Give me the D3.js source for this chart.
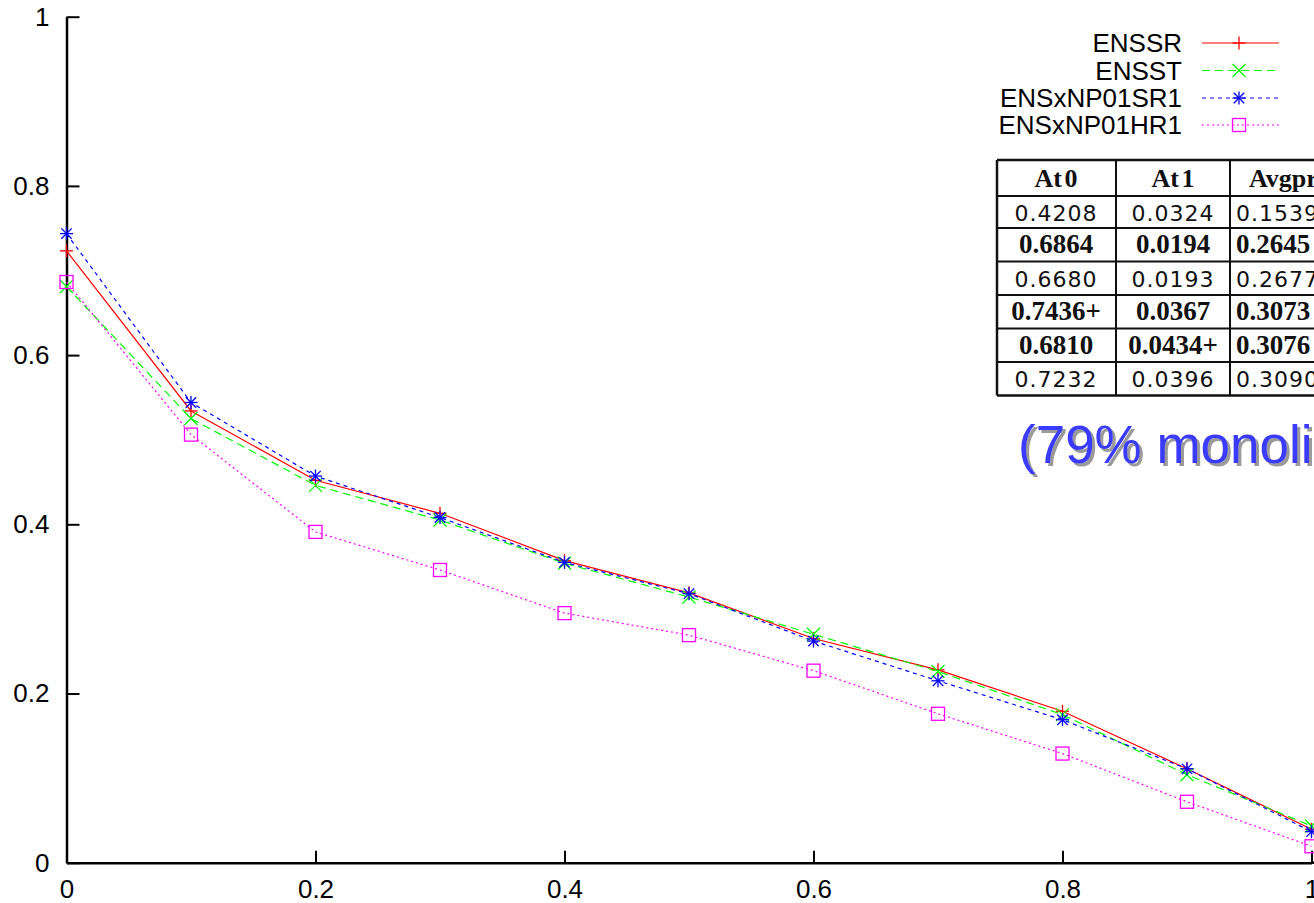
<!DOCTYPE html>
<html>
<head>
<meta charset="utf-8">
<script src="https://cdn.jsdelivr.net/npm/d3@7"></script>
<style>
  html, body { margin: 0; padding: 0; background: #fff; }
  svg { display: block; }
</style>
</head>
<body>
<svg id="chart" width="1314" height="903"></svg>
<script>
// ---------------- data ----------------
const recallLevels = [0, 0.1, 0.2, 0.3, 0.4, 0.5, 0.6, 0.7, 0.8, 0.9, 1.0];
const seriesNames = ["ENSSR", "ENSST", "ENSxNP01SR1", "ENSxNP01HR1"];
const ensSR      = [0.7232, 0.534, 0.452, 0.413, 0.357, 0.319, 0.265, 0.228, 0.179, 0.111, 0.0396];
const ensST      = [0.6810, 0.525, 0.446, 0.405, 0.354, 0.314, 0.270, 0.226, 0.175, 0.104, 0.0434];
const ensNPSR1   = [0.7436, 0.544, 0.457, 0.408, 0.355, 0.318, 0.262, 0.215, 0.169, 0.111, 0.0367];
const ensNPHR1   = [0.6864, 0.506, 0.391, 0.346, 0.295, 0.269, 0.227, 0.176, 0.129, 0.072, 0.0194];
const xTickValues = [0, 0.2, 0.4, 0.6, 0.8, 1];
const xTickLabels = ["0", "0.2", "0.4", "0.6", "0.8", "1"];
const yTickValues = [0, 0.2, 0.4, 0.6, 0.8, 1];
const yTickLabels = ["0", "0.2", "0.4", "0.6", "0.8", "1"];

const tableHeader = ["At 0", "At 1", "Avgprec"];
const tableRows = [
  ["0.4208", "0.0324", "0.1539"],
  ["0.6864", "0.0194", "0.2645"],
  ["0.6680", "0.0193", "0.2677"],
  ["0.7436+", "0.0367", "0.3073"],
  ["0.6810", "0.0434+", "0.3076"],
  ["0.7232", "0.0396", "0.3090"]
];
const tableRowBold = [false, true, false, true, true, false];
const overlayNote = "(79% monolingual)";

// ---------------- styles ----------------
const seriesValues = [ensSR, ensST, ensNPSR1, ensNPHR1];
const colors = ["#ff0000", "#00ff00", "#0000ff", "#ff00ff"];
const dashes = [null, "8,5", "4,4", "2,3"];
const markerTypes = ["plus", "cross", "star", "square"];

const svg = d3.select("#chart");
svg.append("rect").attr("width", 1314).attr("height", 903).attr("fill", "#fff");

const defs = svg.append("defs");
defs.append("filter").attr("id", "shadow").attr("x", "-5%").attr("y", "-20%")
  .attr("width", "120%").attr("height", "150%")
  .append("feDropShadow").attr("dx", 3).attr("dy", 3).attr("stdDeviation", 0.6)
  .attr("flood-color", "#9a9a9a").attr("flood-opacity", 1);

const x = d3.scaleLinear().domain([0, 1]).range([66.5, 1311.5]);
const y = d3.scaleLinear().domain([0, 1]).range([862.7, 16.7]);

const fontSans = "'Liberation Sans', Arial, sans-serif";

// axes
const yAxis = d3.axisLeft(y).tickValues(yTickValues)
  .tickFormat((d, i) => yTickLabels[i]).tickSize(-13).tickSizeOuter(0).tickPadding(17);
const gy = svg.append("g").attr("transform", `translate(${x(0)},0)`).call(yAxis);
gy.selectAll("text").attr("font-family", fontSans).attr("font-size", 26).attr("fill", "#000");
gy.selectAll("line").attr("stroke", "#000").attr("stroke-width", 2);
gy.select(".domain").attr("stroke", "#000").attr("stroke-width", 2.5);

const xAxis = d3.axisBottom(x).tickValues(xTickValues)
  .tickFormat((d, i) => xTickLabels[i]).tickSize(-12).tickSizeOuter(0).tickPadding(17);
const gx = svg.append("g").attr("transform", `translate(0,${y(0)})`).call(xAxis);
gx.selectAll("text").attr("font-family", fontSans).attr("font-size", 26).attr("fill", "#000");
gx.selectAll("line").attr("stroke", "#000").attr("stroke-width", 2);
gx.select(".domain").attr("stroke", "#000").attr("stroke-width", 2.5);
svg.append("line").attr("x1", x(1)).attr("x2", 1314).attr("y1", y(0)).attr("y2", y(0))
  .attr("stroke", "#000").attr("stroke-width", 2.5);

// marker drawing
function drawMarker(g, type, cx, cy, color) {
  const h = 6.5;
  const m = g.append("g").attr("stroke", color).attr("stroke-width", 1.3).attr("fill", "none");
  if (type === "plus" || type === "star") {
    m.append("line").attr("x1", cx - h).attr("x2", cx + h).attr("y1", cy).attr("y2", cy);
    m.append("line").attr("x1", cx).attr("x2", cx).attr("y1", cy - h).attr("y2", cy + h);
  }
  if (type === "cross" || type === "star") {
    const k = type === "star" ? h * 0.8 : h;
    m.append("line").attr("x1", cx - k).attr("x2", cx + k).attr("y1", cy - k).attr("y2", cy + k);
    m.append("line").attr("x1", cx - k).attr("x2", cx + k).attr("y1", cy + k).attr("y2", cy - k);
  }
  if (type === "square") {
    m.append("rect").attr("x", cx - h).attr("y", cy - h).attr("width", 2 * h).attr("height", 2 * h);
  }
}

// lines
const lineGen = d3.line().x((d, i) => x(recallLevels[i])).y(d => y(d));
const plot = svg.append("g");
seriesValues.forEach((vals, s) => {
  plot.append("path").datum(vals).attr("d", lineGen)
    .attr("fill", "none").attr("stroke", colors[s]).attr("stroke-width", 1.2)
    .attr("stroke-dasharray", dashes[s]);
  vals.forEach((v, i) => drawMarker(plot, markerTypes[s], x(recallLevels[i]), y(v), colors[s]));
});

// legend
const legend = svg.append("g");
const legendY = [43, 70.5, 98, 125];
seriesNames.forEach((name, s) => {
  const ly = legendY[s];
  legend.append("text").attr("x", 1182).attr("y", ly).attr("dy", "0.35em")
    .attr("text-anchor", "end").attr("font-family", fontSans).attr("font-size", 26)
    .attr("fill", "#000").text(name);
  legend.append("line").attr("x1", 1202).attr("x2", 1279).attr("y1", ly).attr("y2", ly)
    .attr("stroke", colors[s]).attr("stroke-width", 1.2).attr("stroke-dasharray", dashes[s]);
  drawMarker(legend, markerTypes[s], 1239, ly, colors[s]);
});

// table overlay
const tbl = svg.append("g");
const colX = [997, 1116, 1230, 1400];
const rowY = [160, 196, 228, 261.5, 295, 328.5, 362, 395.5];
tbl.append("rect").attr("x", colX[0]).attr("y", rowY[0]).attr("width", 1400 - colX[0])
  .attr("height", rowY[7] - rowY[0]).attr("fill", "#fff");
rowY.forEach((ry, i) => tbl.append("line").attr("x1", colX[0]).attr("x2", 1314).attr("y1", ry).attr("y2", ry)
  .attr("stroke", "#111").attr("stroke-width", (i === 0 || i === 7) ? 2.5 : 2));
colX.slice(0, 3).forEach((cx, i) => tbl.append("line").attr("x1", cx).attr("x2", cx)
  .attr("y1", rowY[0]).attr("y2", rowY[7]).attr("stroke", "#111").attr("stroke-width", i === 0 ? 2.5 : 2));

const fontSerif = "'Liberation Serif', 'Times New Roman', serif";
const cellCenters = [1056, 1173];
function cellX(c, header) { return c < 2 ? cellCenters[c] : (header ? 1249 : 1236); }
function cellAnchor(c) { return c < 2 ? "middle" : "start"; }
tableHeader.forEach((h, c) => {
  tbl.append("text").attr("x", cellX(c, true)).attr("y", 187)
    .attr("text-anchor", cellAnchor(c)).attr("font-family", fontSerif).attr("font-weight", "bold")
    .attr("font-size", 26).attr("word-spacing", -4).attr("fill", "#111").text(h);
});
tableRows.forEach((row, r) => {
  const base = rowY[r + 1] + 25;
  row.forEach((val, c) => {
    const t = tbl.append("text").attr("x", cellX(c, false)).attr("y", base)
      .attr("text-anchor", cellAnchor(c)).attr("fill", "#111");
    if (tableRowBold[r]) {
      t.attr("font-family", fontSerif).attr("font-weight", "bold").attr("font-size", 27);
    } else {
      t.attr("font-family", "'DejaVu Sans', sans-serif").attr("font-size", 22).attr("letter-spacing", 1);
    }
    t.text(val);
  });
});

// blue note with drop shadow
svg.append("text").attr("x", 1018).attr("y", 463).attr("font-family", fontSans)
  .attr("font-size", 53).attr("fill", "#3a3aff").attr("filter", "url(#shadow)").text(overlayNote);
</script>
</body>
</html>
